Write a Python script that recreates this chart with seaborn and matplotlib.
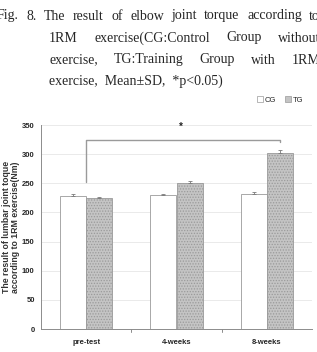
import matplotlib
matplotlib.use("Agg")
import matplotlib.pyplot as plt
import seaborn as sns
import pandas as pd
import numpy as np

# valores (Nm)
periodos = ["pre-test", "4-weeks", "8-weeks"]
grupos = ["CG", "TG"]
media_cg = [228, 230, 231]
media_tg = [224, 250, 302]
sd_cg = [4, 1, 4]
sd_tg = [2, 4, 5]

# pie de figura, linea a linea
pie_lineas = [
    "Fig. 8. The result of elbow joint torque according to",
    "1RM exercise(CG:Control Group without",
    "exercise, TG:Training Group with 1RM",
    "exercise,  Mean\u00b1SD,  *p<0.05)",
]

df = pd.DataFrame({
    "periodo": periodos * 2,
    "grupo": ["CG"] * 3 + ["TG"] * 3,
    "valor": media_cg + media_tg,
    "sd": sd_cg + sd_tg,
})

sns.set_style("white")
plt.rcParams["font.family"] = ["Liberation Sans Narrow", "Liberation Sans", "DejaVu Sans"]
plt.rcParams["hatch.color"] = "#8a8a8a"
plt.rcParams["hatch.linewidth"] = 0.6

W, H = 317, 352
fig = plt.figure(figsize=(W / 100, H / 100), dpi=100)
renderer = fig.canvas.get_renderer()

# -------------------------------
# pie de figura justificado
# -------------------------------
serif = {"family": "Liberation Serif", "size": 10}
margenes = [(-3, 320), (49, 320), (49, 320), (49, None)]
alturas = [16, 38, 60, 81]
for linea, (izq, der), y in zip(pie_lineas, margenes, alturas):
    if der is None:
        fig.text(izq / W, 1 - y / H, linea, ha="left", va="center", fontdict=serif)
        continue
    palabras = linea.split()
    textos = [fig.text(0, 1 - y / H, p, ha="left", va="center", fontdict=serif) for p in palabras]
    anchos = [t.get_window_extent(renderer).width for t in textos]
    hueco = (der - izq - sum(anchos)) / (len(palabras) - 1)
    x = izq
    for t, a in zip(textos, anchos):
        t.set_x(x / W)
        x += a + hueco

# -------------------------------
# grafico de barras
# -------------------------------
ax = fig.add_axes([41 / W, 23 / H, 271 / W, 204 / H])
sns.barplot(data=df, x="periodo", y="valor", hue="grupo", order=periodos, hue_order=grupos,
            palette=["white", "#c4c4c4"], width=0.58, errorbar=None, ax=ax,
            edgecolor="#9a9a9a", linewidth=0.6, zorder=3)

for barra in ax.containers[1]:
    barra.set_hatch("......")

# barras de error (solo hacia arriba)
for cont, sds in zip(ax.containers, [sd_cg, sd_tg]):
    for barra, s in zip(cont, sds):
        xc = barra.get_x() + barra.get_width() / 2
        ax.errorbar(xc, barra.get_height(), yerr=[[0], [s]], color="#7a7a7a",
                    lw=0.6, capsize=1.5, capthick=0.6, zorder=4)

ax.set_ylim(0, 350)
ax.set_yticks(np.arange(0, 351, 50))
ax.set_xlim(-0.5, 2.5)
ax.yaxis.grid(True, color="#e6e6e6", lw=0.6, zorder=0)
ax.set_axisbelow(True)
sns.despine(ax=ax)
for sp in ["left", "bottom"]:
    ax.spines[sp].set_color("#8c8c8c")
    ax.spines[sp].set_linewidth(0.7)

ax.set_xticks([0, 1, 2])
ax.set_xticklabels(periodos, fontsize=5.5, fontweight="bold")
ax.tick_params(axis="x", length=0, pad=7)
ax.tick_params(axis="y", labelsize=5.5, length=2.5, color="#8c8c8c", pad=2)
for lab in ax.get_yticklabels():
    lab.set_fontweight("bold")
# marcas entre categorias
for xb in [0.5, 1.5]:
    ax.plot([xb, xb], [0, -5], color="#8c8c8c", lw=0.7, clip_on=False)

ax.set_xlabel("")
ax.set_ylabel("The result of lumbar joint toque\naccording to 1RM exercise(Nm)",
              fontsize=6.3, fontweight="bold", family="Liberation Sans",
              linespacing=0.95, color="#333333", va="center")
ax.yaxis.set_label_coords(-0.11, 0.5)

# corchete de significancia
b_izq = ax.containers[0][0]
b_der = ax.containers[1][2]
x1 = b_izq.get_x() + b_izq.get_width()
x2 = b_der.get_x() + b_der.get_width() / 2
ax.plot([x1, x1, x2, x2], [252, 324, 324, 320], color="#9a9a9a", lw=1.0, clip_on=False)
ax.text(1.05, 347, "*", ha="center", va="center", fontsize=7, fontweight="bold")

leg = ax.legend(loc="lower right", bbox_to_anchor=(0.98, 1.09), ncol=2, frameon=False,
                fontsize=5.5, handlelength=0.8, handleheight=0.8, handletextpad=0.2,
                columnspacing=1.2, borderaxespad=0)
for h in leg.legend_handles:
    h.set_edgecolor("#9a9a9a")
    h.set_linewidth(0.5)

fig.savefig("out.png", dpi=100)
